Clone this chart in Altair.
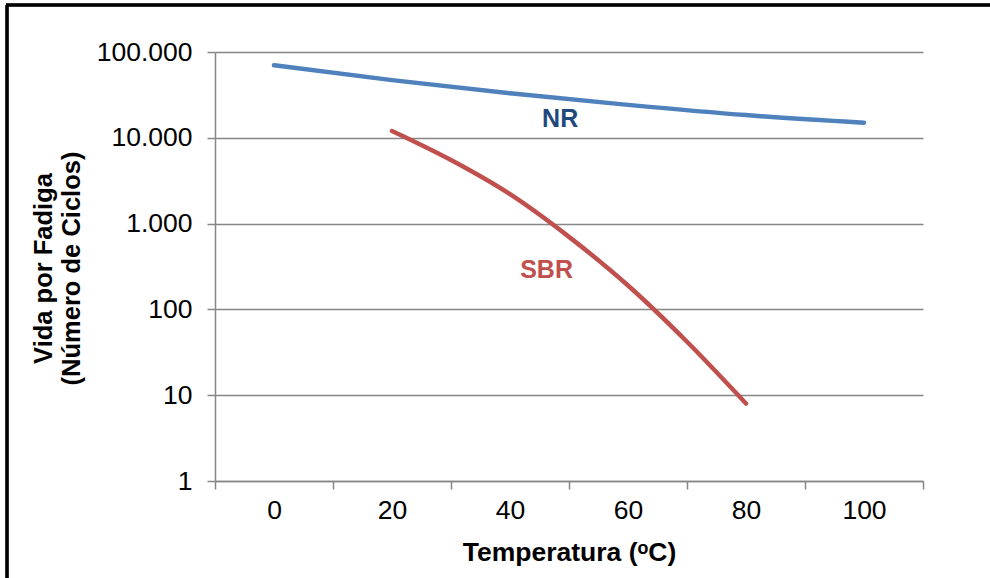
import altair as alt
import pandas as pd

# Data
temp_nr = [0, 20, 40, 60, 80, 100]
life_nr = [70000, 47000, 33000, 24200, 18400, 15000]

temp_sbr = [20, 30, 40, 50, 60, 70, 80]
life_sbr = [12000, 5500, 2200, 700, 190, 42, 8]

label_text = ["NR", "SBR"]
label_temp = [48.5, 46.2]
label_life = [16600, 290]
label_color = ["#1F497D", "#C0504D"]

y_ticks = [1, 10, 100, 1000, 10000, 100000]
x_ticks = [-10, 0, 10, 20, 30, 40, 50, 60, 70, 80, 90, 100, 110]

df_nr = pd.DataFrame({"t": temp_nr, "v": life_nr})
df_sbr = pd.DataFrame({"t": temp_sbr, "v": life_sbr})
df_lab = pd.DataFrame({"t": label_temp, "v": label_life, "txt": label_text, "c": label_color})

FONT = "Liberation Sans"
GRAY = "#868686"

x_scale = alt.Scale(domain=[-10, 110], nice=False, zero=False)
y_scale = alt.Scale(type="log", domain=[1, 100000], nice=False)

x_axis = alt.Axis(
    values=x_ticks,
    labelExpr="datum.value % 20 == 0 ? datum.value : ''",
    tickOpacity={"condition": {"test": "datum.value % 20 == 0", "value": 0}, "value": 1},
    grid=False,
    domainColor=GRAY, domainWidth=1.5,
    tickColor=GRAY, tickWidth=1.5, tickSize=8,
    labelFont=FONT, labelFontSize=26.5, labelColor="#000000", labelPadding=8,
    labelFlush=False, labelOverlap=False,
    title="Temperatura (ᵒC)",
    titleFont=FONT, titleFontSize=26.5, titleFontWeight="bold", titleColor="#000000",
    titleY=71, titleBaseline="middle",
)

y_axis = alt.Axis(
    values=y_ticks,
    labelExpr="datum.value >= 1000 ? format(datum.value/1000, 'd') + '.000' : format(datum.value, 'd')",
    grid=True, gridColor=GRAY, gridWidth=1.5,
    domainColor=GRAY, domainWidth=1.5,
    tickColor=GRAY, tickWidth=1.5, tickSize=8,
    labelFont=FONT, labelFontSize=26.5, labelColor="#000000", labelPadding=15,
    labelFlush=False, labelOverlap=False,
    title=["Vida por Fadiga", "(Número de Ciclos)"],
    titleFont=FONT, titleFontSize=25.5, titleFontWeight="bold", titleColor="#000000",
    titleAngle=-90, titleX=-172, titleY=216, titleAlign="center", titleBaseline="middle",
    titleLineHeight=28,
)

nr_line = alt.Chart(df_nr).mark_line(
    color="#4F81BD", strokeWidth=4.5, strokeCap="round", interpolate="monotone"
).encode(
    x=alt.X("t:Q", scale=x_scale, axis=x_axis),
    y=alt.Y("v:Q", scale=y_scale, axis=y_axis),
)

sbr_line = alt.Chart(df_sbr).mark_line(
    color="#C0504D", strokeWidth=4.5, strokeCap="round", interpolate="monotone"
).encode(
    x=alt.X("t:Q", scale=x_scale),
    y=alt.Y("v:Q", scale=y_scale),
)

labels = alt.Chart(df_lab).mark_text(
    font=FONT, fontSize=25, fontWeight="bold", align="center", baseline="middle"
).encode(
    x=alt.X("t:Q", scale=x_scale),
    y=alt.Y("v:Q", scale=y_scale),
    text="txt:N",
    color=alt.Color("c:N", scale=None),
)

# Outer chart-area border (visible left and top edges)
border_left = alt.Chart(df_nr).mark_rule(color="#000000", strokeWidth=2.5).encode(
    x=alt.value(-208), y=alt.value(-47), y2=alt.value(560)
)
border_top = alt.Chart(df_nr).mark_rule(color="#000000", strokeWidth=2.5).encode(
    x=alt.value(-209), x2=alt.value(800), y=alt.value(-47)
)

chart = alt.layer(nr_line, sbr_line, labels, border_left, border_top).properties(
    width=708,
    height=429,
    autosize=alt.AutoSizeParams(type="none"),
    padding={"left": 215, "top": 52, "right": 67, "bottom": 97},
    background="#FFFFFF",
).configure_view(stroke=None)

chart.save("out.html", embed_options={"renderer": "svg", "actions": False})
